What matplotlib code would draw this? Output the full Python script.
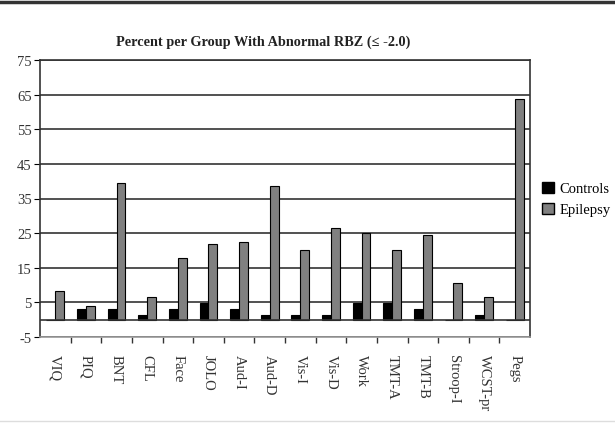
import numpy as np
import matplotlib.pyplot as plt
from matplotlib.lines import Line2D

# percent of each group with abnormal RBZ scores, per test
tests = ["VIQ", "PIQ", "BNT", "CFL", "Face", "JOLO", "Aud-I", "Aud-D",
         "Vis-I", "Vis-D", "Work", "TMT-A", "TMT-B", "Stroop-I", "WCST-pr", "Pegs"]
controls = [0, 3.0, 3.0, 1.3, 3.0, 4.9, 3.0, 1.3, 1.3, 1.3, 4.9, 4.9, 3.0, 0, 1.3, 0]
epilepsy = [8.4, 4.0, 39.6, 6.6, 17.9, 22.0, 22.5, 38.7, 20.0, 26.6, 24.9, 20.0, 24.6, 10.7, 6.6, 63.7]
yticks = list(range(-5, 76, 10))

plt.rcParams["font.family"] = ["Liberation Serif", "DejaVu Serif"]
plt.rcParams["axes.unicode_minus"] = False

fig = plt.figure(figsize=(6.15, 4.27), dpi=100)
ax = fig.add_axes([40 / 615, 1 - 338 / 427, 490 / 615, 277 / 427])

x = np.arange(len(tests))
w = 0.29
ax.bar(x - w / 2, controls, w, color="black", edgecolor="black", linewidth=0.8,
       label="Controls", zorder=3)
ax.bar(x + w / 2, epilepsy, w, color="#808080", edgecolor="black", linewidth=0.8,
       label="Epilepsy", zorder=3)

ax.set_xlim(-0.5, len(tests) - 0.5)
ax.set_ylim(-5, 75)
ax.set_yticks(yticks)
ax.tick_params(axis="y", direction="out", length=4, labelsize=10.5, pad=2)
for t in ax.get_yticklabels():
    t.set_color("#333333")
ax.grid(axis="y", color="#333333", linewidth=1.2, zorder=0)
ax.axhline(0, color="#333333", linewidth=1.2, zorder=4)

ax.set_xticks(x)
ax.set_xticklabels(tests, rotation=270, fontsize=10.5, color="#333333")
ax.tick_params(axis="x", length=0, pad=12)

for side in ["top", "left", "right"]:
    ax.spines[side].set_color("#333333")
    ax.spines[side].set_linewidth(1.2)
ax.spines["bottom"].set_color("#999999")
ax.spines["bottom"].set_linewidth(1.2)

# category separators on the zero line
sec = ax.secondary_xaxis(0)
sec.set_xticks(np.arange(0.5, len(tests) - 0.5, 1.0))
sec.set_xticklabels([])
sec.tick_params(direction="out", length=4, width=1.0, color="#333333")
sec.spines["bottom"].set_visible(False)

fig.text(263 / 615, 1 - 42 / 427,
         "Percent per Group With Abnormal RBZ (\u2264 -2.0)",
         ha="center", va="center", fontsize=10.3, fontweight="bold", color="#222222")

handles = [plt.Rectangle((0, 0), 1, 1, facecolor="black", edgecolor="black"),
           plt.Rectangle((0, 0), 1, 1, facecolor="#808080", edgecolor="black")]
fig.legend(handles, ["Controls", "Epilepsy"], loc="center left",
           bbox_to_anchor=(535 / 615, 1 - 200 / 427), frameon=False,
           fontsize=10.5, handlelength=0.8, handleheight=0.8, handletextpad=0.4,
           labelspacing=0.5, borderpad=0)

fig.add_artist(Line2D([0, 1], [1 - 3 / 427, 1 - 3 / 427], color="#333333",
                      linewidth=2.5, transform=fig.transFigure))
fig.add_artist(Line2D([0, 1], [1 - 422 / 427, 1 - 422 / 427], color="#dddddd",
                      linewidth=1.0, transform=fig.transFigure))

fig.savefig("out.png", dpi=100)
